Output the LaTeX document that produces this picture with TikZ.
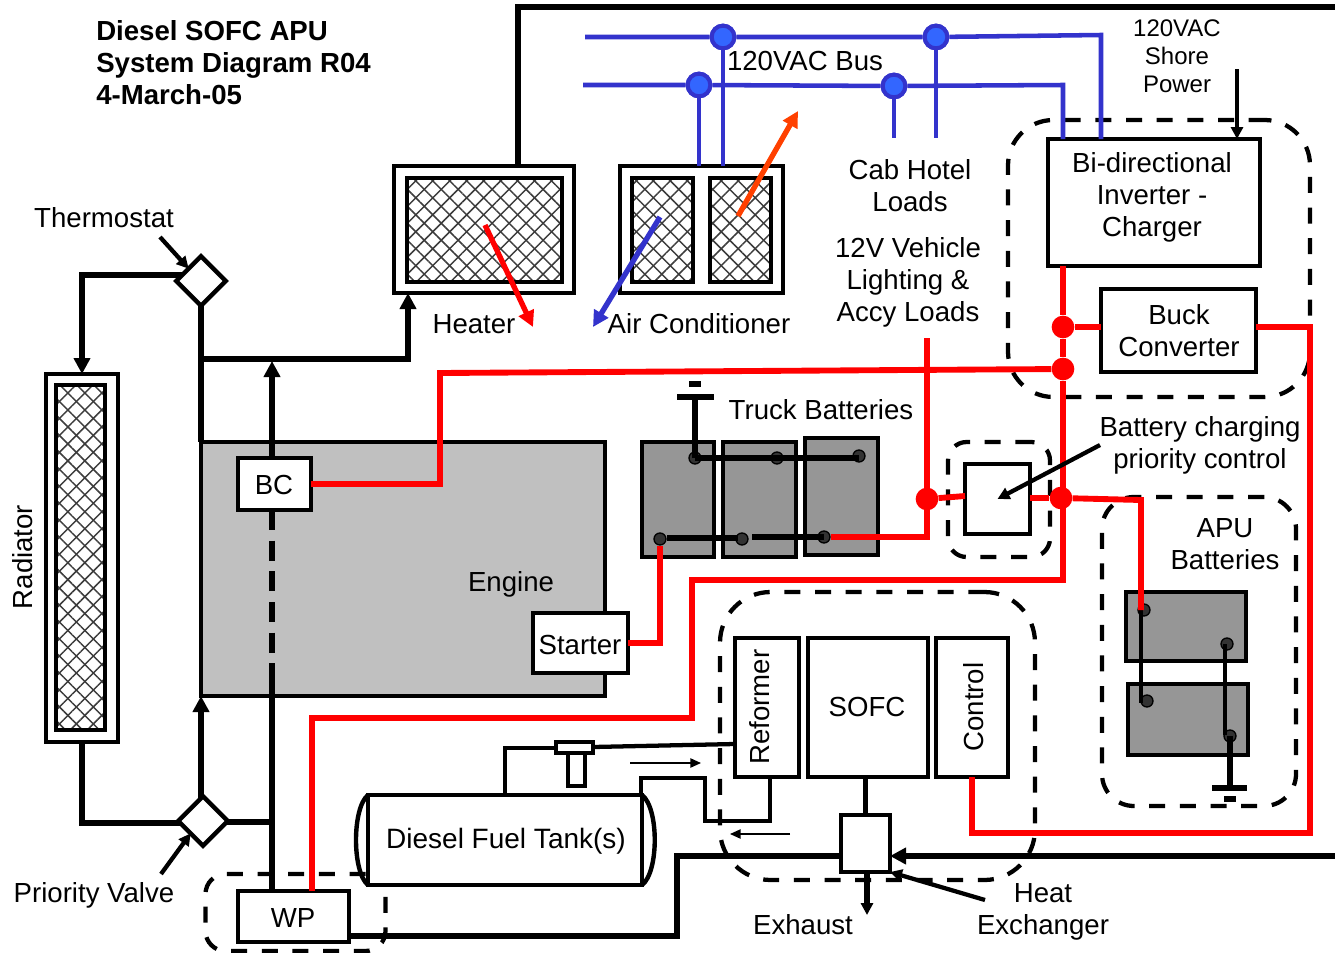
\documentclass[tikz,border=0pt]{standalone}
\usepackage{fontspec}
\setmainfont{Liberation Sans}
\usetikzlibrary{arrows.meta,patterns.meta,shapes.geometric}
\definecolor{wirered}{RGB}{255,0,0}
\definecolor{hotred}{RGB}{255,64,0}
\definecolor{wireblue}{RGB}{51,51,204}
\definecolor{dotblue}{RGB}{51,102,255}
\definecolor{enginegray}{RGB}{192,192,192}
\definecolor{battgray}{RGB}{150,150,150}
\definecolor{postgray}{RGB}{51,51,51}
\definecolor{hatchgray}{RGB}{60,60,60}
\tikzset{
  wh/.style 2 args={minimum width=#1*0.75pt, minimum height=#2*0.75pt},
  box/.style={draw, line width=3.3pt, fill=white, inner sep=0pt, outer sep=0pt},
  lbl/.style={inner sep=0pt, align=center, font=\fontsize{20.7}{24}\selectfont},
  groupbox/.style={draw, line width=3.2pt, dash pattern=on 12pt off 11pt, rounded corners=#1, inner sep=0pt},
  hatchbox/.style={draw, line width=3.3pt, inner sep=0pt, outer sep=0pt,
    preaction={fill=white},
    preaction={pattern={Lines[angle=45,distance=9pt,line width=1.1pt]}, pattern color=hatchgray},
    preaction={pattern={Lines[angle=-45,distance=9pt,line width=1.1pt]}, pattern color=hatchgray}},
  battbox/.style={draw, line width=3.3pt, fill=battgray, inner sep=0pt, outer sep=0pt},
  batpost/.style={circle, draw, line width=1pt, fill=postgray, minimum size=9pt, inner sep=0pt},
  valve/.style={diamond, draw, line width=3.3pt, fill=white, minimum size=37pt, inner sep=0pt, outer sep=0pt},
  redjoint/.style={circle, fill=wirered, minimum size=17pt, inner sep=0pt},
  bluejoint/.style={circle, draw=wireblue, line width=3pt, fill=dotblue, minimum size=17pt, inner sep=0pt},
  pipe/.style={line width=4.4pt},
  fine/.style={line width=3.2pt},
  redline/.style={draw=wirered, line width=4.4pt},
  blueline/.style={draw=wireblue, line width=3.4pt},
  tip/.style={-{Triangle[length=12pt,width=12pt]}},
  smalltip/.style={-{Triangle[length=9pt,width=9pt]}},
  thintip/.style={line width=1.1pt, -{Triangle[length=8pt,width=7pt]}}
}
\begin{document}
\begin{tikzpicture}[x=0.75pt,y=-0.75pt]
  \useasboundingbox (0,0) rectangle (1335,953);

  % dashed groups
  \node[groupbox=34pt, wh={302}{277}] (invgroup) at (1159,258.5) {};
  \node[groupbox=14pt, wh={102}{115}] (switchgroup) at (999,499.5) {};
  \node[groupbox=24pt, wh={194}{309}] (apugroup) at (1199,651.5) {};
  \node[groupbox=38pt, wh={315}{288}] (fcgroup) at (877.5,736) {};
  \node[groupbox=15pt, wh={180}{77}] (wpgroup) at (295.5,912.5) {};

  % heater and air conditioner
  \node[box, wh={180}{127}] (heater) at (484,229.5) {};
  \node[hatchbox, wh={155}{104}] (heatercore) at (484.5,230) {};
  \node[box, wh={163}{127}] (ac) at (701.5,229.5) {};
  \node[hatchbox, wh={61}{104}] (accoreA) at (662.5,230) {};
  \node[hatchbox, wh={61}{104}] (accoreB) at (740.5,230) {};

  % radiator, engine
  \node[box, wh={72}{368}] (radiator) at (82,558) {};
  \node[hatchbox, wh={49}{345}] (radcore) at (80.5,557.5) {};
  \node[box, fill=enginegray, wh={404}{254}] (engine) at (403,569) {};
  \node[box, wh={73}{52}] (bc) at (274.5,484) {};
  \node[box, wh={95}{60}] (starter) at (580.5,643) {};
  \node[box, wh={111}{51}] (wp) at (293.5,916.5) {};

  % free ends
  \coordinate (topright) at (1335,7);
  \coordinate (busAstart) at (585,37);
  \coordinate (busBstart) at (583,85);
  \coordinate (shore) at (1237,69);
  \coordinate (loadfeed) at (927,338);
  \coordinate (hxin) at (1335,856);
  \coordinate (gndtruck) at (695,397);
  \coordinate (gndapu) at (1230,788);

  % coolant
  \draw[pipe] (heater.north -| 518,0) |- (topright);
  \draw[pipe, tip] (190,275) -| (radiator.north -| 82,0);
  \draw[pipe] (201,281) -- (201 ,442);
  \draw[pipe, tip] (201,359) -| (heater.south -| 408,0);
  \draw[pipe, tip] (bc.north -| 272,0) -- (272,361);
  \draw[pipe] (radiator.south -| 82,0) |- (190,823);
  \draw[pipe, tip] (201,800) -- (engine.south -| 201,0);
  \draw[pipe] (210,822) -- (272,822);
  \draw[pipe, dash pattern=on 15pt off 8pt] (bc.south -| 272,0) -- (272,672);
  \draw[pipe] (272,672) -- (wp.north -| 272,0);
  \node[valve] (thermostat) at (201,281) {};
  \node[valve] (priority) at (203,821) {};

  % fuel cell stack
  \node[box, wh={64}{139}] (reformer) at (767,707.5) {};
  \node[lbl, rotate=90] (reformerlabel) at (760,707) {Reformer};
  \node[box, wh={120}{139}] (sofc) at (868,707.5) {};
  \node[lbl] (sofclabel) at (867,707) {SOFC};
  \node[box, wh={72}{139}] (control) at (972,707.5) {};
  \node[lbl, rotate=90] (controllabel) at (974,707) {Control};

  % tank and fuel lines
  \draw[fine] (505,795) |- (556,748);
  \draw[fine] (593,747) -- (reformer.west |- 0,744);
  \node[box, line width=2.8pt, wh={37}{11}] (tankcap) at (574.5,747.5) {};
  \node[box, line width=2.8pt, wh={17}{33}] (tankstem) at (576.5,769.5) {};
  \draw[fine] (reformer.south -| 770,0) |- (705,821) |- (641,778) -- (641,795);
  \node[box, wh={274}{90}] (tank) at (505,840) {};
  \draw[line width=3.3pt] (tank.north west) .. controls (352,808) and (352,872) .. (tank.south west);
  \draw[line width=3.3pt] (tank.north east) .. controls (659,808) and (659,872) .. (tank.south east);
  \node[lbl, font=\fontsize{21}{24}\selectfont] (tanklabel) at (506,841) {Diesel Fuel Tank(s)};

  % exhaust side
  \node[box, wh={49}{57}] (hx) at (865.5,843.5) {};
  \draw[fine] (sofc.south -| hx) -- (hx.north);
  \draw[pipe, smalltip] (hx.south -| 867,0) -- (867,915);
  \draw[pipe] (wp.east |- 0,936) -| (677,856) -- (hx.west |- 0,856);
  \draw[pipe, tip] (hxin) -- (hx.east |- hxin);
  \draw[fine, smalltip] (985,900) -- (hx.south east);
  \draw[thintip] (630,763) -- (701,763);
  \draw[thintip] (790,834) -- (730,834);

  % inverter, buck converter, control box
  \node[box, wh={212}{127}] (inverter) at (1154,202.5) {};
  \node[lbl] (inverterlabel) at (1152,197) {Bi-directional\\Inverter -\\Charger};
  \node[box, wh={155}{83}] (buck) at (1178.5,330.5) {};
  \node[lbl] (bucklabel) at (1179,331) {Buck\\Converter};
  \node[box, wh={65}{70}] (switch) at (997.5,499) {};

  % truck batteries
  \node[battbox, wh={72}{115}] (truckA) at (678,499.5) {};
  \node[battbox, wh={73}{115}] (truckB) at (759.5,499.5) {};
  \node[battbox, wh={73}{117}] (truckC) at (841.5,496.5) {};
  \node[batpost] (tA) at (695,458) {};
  \node[batpost] (tB) at (777,458) {};
  \node[batpost] (tC) at (859,456) {};
  \node[batpost] (bA) at (660,539) {};
  \node[batpost] (bB) at (742,539) {};
  \node[batpost] (bC) at (824,537) {};
  \draw[pipe] (tA.center) -- (tC.center |- tA.center);
  \draw[pipe] (667,538) -- (738,538);
  \draw[pipe] (752,537) -- (bC.center);
  \draw[pipe] (tA.center) -- (gndtruck);
  \draw[pipe] (677,397) -- (714,397);
  \draw[pipe] (689,384) -- (701,384);

  % APU batteries
  \node[battbox, wh={120}{69}] (apuA) at (1186,626.5) {};
  \node[battbox, wh={120}{71}] (apuB) at (1188,719.5) {};
  \node[batpost] (apuAplus) at (1144,610) {};
  \node[batpost] (apuAminus) at (1227,644) {};
  \node[batpost] (apuBplus) at (1147,701) {};
  \node[batpost] (apuBminus) at (1230,736) {};
  \draw[fine, line width=3.6pt] (1141,610) -- (1141,703);
  \draw[fine, line width=3.6pt] (1225,644) -- (1225,735);
  \draw[pipe] (apuBminus.center) -- (1230,785);
  \draw[pipe] (1212,788) -- (1247,788);
  \draw[pipe] (1224,799) -- (1236,799);

  % dc wiring
  \node[redjoint] (jbuck) at (1063,327) {};
  \node[redjoint] (jbus) at (1063,369) {};
  \node[redjoint] (jload) at (927,499) {};
  \node[redjoint] (japu) at (1061,498) {};
  \draw[redline] (inverter.south -| jbuck) -- (jbuck) -- (jbus) -- (1063,580) -| (692,718) -| (wp.north -| 312,0);
  \draw[redline] (jbuck) -- (jbuck -| buck.west);
  \draw[redline] (jbus) -- (440,373) |- (bc.east);
  \draw[redline] (buck.east |- jbuck) -- (1310,327) |- (972,833) -- (control.south -| 972,0);
  \draw[redline] (loadfeed) |- (bC);
  \draw[redline] (jload) -- (switch.west |- 0,496);
  \draw[redline] (switch.east |- japu) -- (japu);
  \draw[redline] (japu) -- (1141,500) -- (apuAplus.center -| 1141,0);
  \draw[redline] (bA) |- (starter.east |- 0,643);

  % ac bus
  \node[bluejoint] (busA1) at (723,37) {};
  \node[bluejoint] (busA2) at (936,37) {};
  \node[bluejoint] (busB1) at (699,85) {};
  \node[bluejoint] (busB2) at (894,86) {};
  \draw[blueline] (busBstart) -- (busB1) -- (busB2) -- (1063,85) -- (inverter.north -| 1063,0);
  \draw[blueline] (busAstart) -- (busA1) -- (busA2) -- (1101,35) -- (inverter.north -| 1101,0);
  \draw[blueline] (busA1) -- (ac.north -| busA1);
  \draw[blueline] (busB1) -- (ac.north -| busB1);
  \draw[blueline] (busA2) -- (936,138);
  \draw[blueline] (busB2) -- (894,138);
  \node[bluejoint] (busA1top) at (busA1) {};
  \node[bluejoint] (busA2top) at (busA2) {};
  \node[bluejoint] (busB1top) at (busB1) {};
  \node[bluejoint] (busB2top) at (busB2) {};

  % heat flow arrows
  \draw[draw=wirered, line width=4pt, tip] (485,225) -- (533,327);
  \draw[blueline, line width=4pt, tip] (660,217) -- (593,327);
  \draw[draw=hotred, line width=4pt, tip] (738,216) -- (798,111);

  % pointers
  \draw[fine, smalltip] (shore) -- (inverter.north -| shore);
  \draw[fine, smalltip] (160,237) -- (thermostat.north west);
  \draw[fine, smalltip] (161,874) -- (priority.south west);
  \draw[fine, smalltip] (1100,445) -- (switch.center);

  % labels
  \node[lbl, font=\fontsize{20.7}{24}\selectfont\bfseries, align=left, anchor=north west] (title) at (96,20) {Diesel SOFC APU\\System Diagram R04\\4-March-05};
  \node[lbl] (buslabel) at (805,61) {120VAC Bus};
  \node[lbl, font=\fontsize{18}{21}\selectfont] (shorelabel) at (1177,56.5) {120VAC\\Shore\\Power};
  \node[lbl] (cablabel) at (910,186) {Cab Hotel\\Loads};
  \node[lbl] (vehiclelabel) at (908,282) {12V Vehicle\\Lighting \&\\Accy Loads};
  \node[lbl] (heaterlabel) at (474,324) {Heater};
  \node[lbl] (aclabel) at (699,324) {Air Conditioner};
  \node[lbl] (thermolabel) at (104,218) {Thermostat};
  \node[lbl, rotate=90] (radlabel) at (23,557) {Radiator};
  \node[lbl] (bclabel) at (274,485) {BC};
  \node[lbl] (enginelabel) at (511,584) {Engine};
  \node[lbl] (starterlabel) at (580,645) {Starter};
  \node[lbl] (wplabel) at (293,918) {WP};
  \node[lbl] (trucklabel) at (821,410) {Truck Batteries};
  \node[lbl] (prioritylabel) at (1200,445) {Battery charging\\priority control};
  \node[lbl] (apulabel) at (1225,544) {APU\\Batteries};
  \node[lbl] (valvelabel) at (94,895) {Priority Valve};
  \node[lbl] (exhaustlabel) at (803,925) {Exhaust};
  \node[lbl] (hxlabel) at (1043,912) {Heat\hspace{6pt}\\Exchanger};
\end{tikzpicture}
\end{document}
